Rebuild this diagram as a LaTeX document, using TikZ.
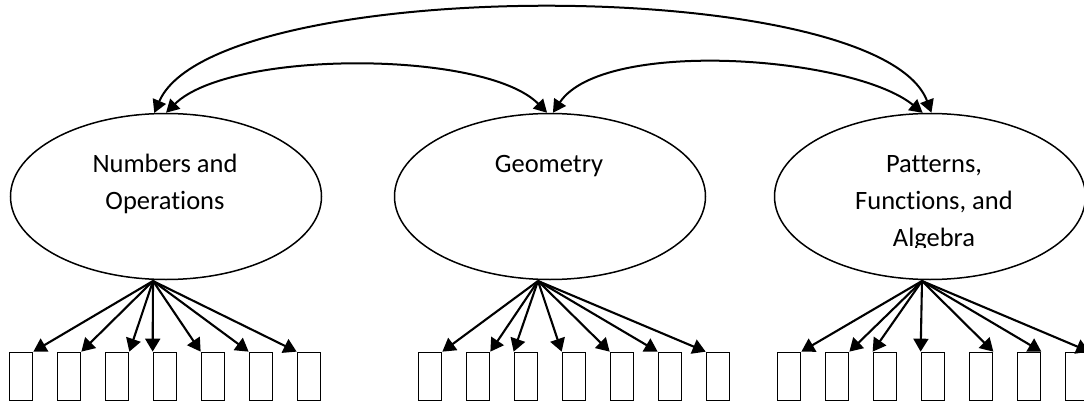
\documentclass[tikz,border=0pt]{standalone}
\usepackage{fontspec}
\setmainfont[Ligatures=NoCommon]{Carlito}
\usetikzlibrary{shapes,arrows.meta,positioning,calc}

\begin{document}
\begin{tikzpicture}[x=1pt,y=-1pt,
    factor/.style={ellipse, draw, line width=1.5pt, minimum width=311pt, minimum height=166pt, inner sep=0pt},
    ftext/.style={align=center, inner sep=0pt, font=\fontsize{26.5}{37}\selectfont},
    item/.style={rectangle, draw, line width=1.7pt, minimum width=23pt, minimum height=48pt, inner sep=0pt},
    load/.style={-{Triangle[length=13pt,width=15pt]}, line width=2.1pt},
    cov/.style={{Triangle[length=13pt,width=14pt]}-{Triangle[length=13pt,width=14pt]}, line width=2pt}]
\useasboundingbox (0,0) rectangle (1084,404);

% factors
\node[factor] (num) at (166,196.5) {};
\node[factor] (geo) at (550,196.5) {};
\node[factor] (pfa) at (930,196.5) {};
\node[ftext, anchor=base] (num-txt) at (165,209) {Numbers and\\Operations};
\node[ftext, anchor=base] (geo-txt) at (549,172) {Geometry};
\begin{scope}
\clip (780,120) rectangle (1084,247);
\node[ftext, anchor=base] (pfa-txt) at (934,246) {Patterns,\\Functions, and\\Algebra};
\end{scope}

% correlations
\draw[cov] (num.98) .. controls +(60,-139) and +(-52,-139) .. (pfa.89);
\draw[cov] (num.north) .. controls +(64,-63) and +(-62,-63) .. (geo.92);
\draw[cov] (geo.88) .. controls +(50,-75) and +(-70,-57) .. (pfa.95);

% indicators
\coordinate (num-o) at (153,281);
\coordinate (geo-o) at (538,281);
\coordinate (pfa-o) at (922,281);
\foreach \i/\a in {1/north east,2/north east,3/north east,4/north west,5/north west,6/north west,7/north west} {
  \node[item] (num-\i) at ({21+48*(\i-1)},376.5) {};
  \draw[load] (num-o) -- (num-\i.\a);
}
\foreach \i/\a in {1/north east,2/north east,3/north west,4/north west,5/north west,6/north west,7/north west} {
  \node[item] (geo-\i) at ({430+48*(\i-1)},376.5) {};
  \draw[load] (geo-o) -- (geo-\i.\a);
}
\foreach \i/\a in {1/north east,2/north east,3/north west,4/north west,5/north east,6/north east,7/north east} {
  \node[item] (pfa-\i) at ({789+48*(\i-1)},376.5) {};
  \draw[load] (pfa-o) -- (pfa-\i.\a);
}
\end{tikzpicture}
\end{document}
